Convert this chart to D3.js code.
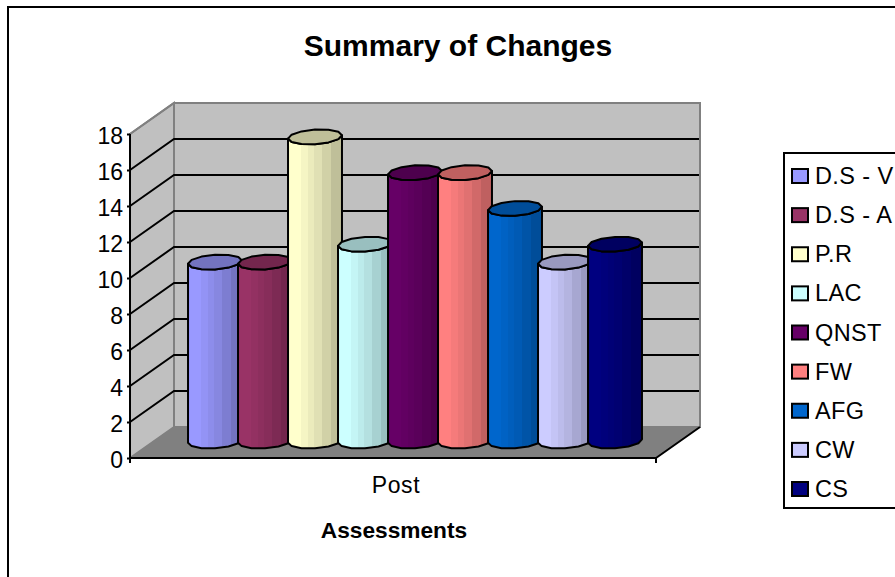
<!DOCTYPE html>
<html><head><meta charset="utf-8">
<script src="https://cdnjs.cloudflare.com/ajax/libs/d3/7.8.5/d3.min.js"></script>
<style>html,body{margin:0;padding:0;background:#fff;overflow:hidden}svg{display:block}text{font-family:"Liberation Sans",Arial,sans-serif;fill:#000}</style>
</head><body><svg id="c" width="895" height="577"></svg>
<script>
const seriesNames=["D.S - V","D.S - A","P.R","LAC","QNST","FW","AFG","CW","CS"];
const seriesValues=[10,10,17,11,15,15,13,10,11];
const seriesColors=["#9999FF","#993366","#FFFFCC","#CCFFFF","#660066","#FF8080","#0066CC","#CCCCFF","#000080"];
const yTicks=[0,2,4,6,8,10,12,14,16,18];
const category="Post";
const titleText="Summary of Changes";
const xTitleText="Assessments";

const svg=d3.select("#c");
const defs=svg.append("defs");
// frame
svg.append("path").attr("d","M8,577V7H895").attr("fill","none").attr("stroke","#000").attr("stroke-width",2);

const front={x0:130,x1:656,y0:458,y1:134};
const depth={dx:44,dy:-31};
const y=d3.scaleLinear().domain([0,18]).range([front.y0,front.y1]);
const yMid=d3.scaleLinear().domain([0,18]).range([441,119]);
const x=d3.scalePoint().domain(seriesNames).range([215,615]);
const backY=v=>y(v)+depth.dy;
const bx0=front.x0+depth.dx, bx1=front.x1+depth.dx;

// walls
svg.append("rect").attr("x",bx0).attr("y",backY(18)).attr("width",bx1-bx0).attr("height",backY(0)-backY(18))
  .attr("fill","#C0C0C0").attr("stroke","#808080").attr("stroke-width",2);
svg.append("polygon").attr("points",[[front.x0,y(18)],[bx0,backY(18)],[bx0,backY(0)],[front.x0,y(0)]].join(" "))
  .attr("fill","#C0C0C0").attr("stroke","#808080").attr("stroke-width",2);
svg.append("polygon").attr("points",[[front.x0,y(0)],[bx0,backY(0)],[bx1,backY(0)],[front.x1,y(0)]].join(" "))
  .attr("fill","#808080");
// gridlines
const gl=yTicks.filter(t=>t>0&&t<18);
svg.append("g").selectAll("path").data(gl).join("path")
  .attr("d",t=>`M${front.x0},${y(t)}L${bx0},${backY(t)}H${bx1-1}`)
  .attr("fill","none").attr("stroke","#000").attr("stroke-width",2);
svg.append("path").attr("d",`M${front.x0},${y(18)}L${bx0},${backY(18)}H${bx1}`).attr("fill","none").attr("stroke","#808080").attr("stroke-width",2);
// axes lines
svg.append("path").attr("d",`M${front.x0},${y(18)}V${y(0)+5}M${front.x0},${y(0)}H${front.x1}V${y(0)+5}M${front.x1},${y(0)}L${bx1},${backY(0)}`)
  .attr("fill","none").attr("stroke","#000").attr("stroke-width",2);

// axis labels
const axis=d3.axisLeft(y).tickValues(yTicks).tickSize(3).tickPadding(4);
const ag=svg.append("g").attr("transform",`translate(${front.x0},0)`).call(axis);
ag.select(".domain").remove();
ag.selectAll("line").attr("stroke","#000").attr("stroke-width",2);
ag.selectAll("text").style("font-size","23px").attr("dy","0.4em").attr("fill","#000");

// columns
const capA=26.3, capDx=6, capDy=7.5;
const pt=(xc,yc,t)=>[xc+capA*Math.cos(t)+capDx*Math.sin(t), yc-capDy*Math.sin(t)];
const tMax=Math.atan2(capDx,capA);
const line=d3.line();
const bands=[[0,1],[.24,.96],[.37,.92],[.48,.88],[.63,.82],[.79,.75]];
const shade=(c,f)=>{const r=d3.rgb(c);return d3.rgb(r.r*f,r.g*f,r.b*f).formatHex();};
seriesColors.forEach((c,i)=>{
  const g=defs.append("linearGradient").attr("id","g"+i).attr("x1",0).attr("x2",1).attr("y1",0).attr("y2",0);
  bands.forEach((b,j)=>{
    g.append("stop").attr("offset",b[0]).attr("stop-color",shade(c,b[1]));
    const e=j<bands.length-1?bands[j+1][0]:1;
    g.append("stop").attr("offset",e).attr("stop-color",shade(c,b[1]));
  });
});
const cols=svg.append("g").selectAll("g").data(seriesNames).join("g");
cols.each(function(name,i){
  const g=d3.select(this), xc=x(name), yt=yMid(seriesValues[i]), yb=yMid(0);
  const cap=d3.range(0,12).map(k=>pt(xc,yt,k*Math.PI/6+tMax));
  const lower=d3.range(0,7).map(k=>pt(xc,yb,Math.PI+tMax+k*Math.PI/6));
  const upper=d3.range(0,7).map(k=>pt(xc,yt,tMax-k*Math.PI/6));
  g.append("path").attr("d",line([...lower,...upper])+"Z").attr("fill",`url(#g${i})`).attr("stroke","#000").attr("stroke-width",2).attr("stroke-linejoin","round");
  g.append("path").attr("d",line(cap)+"Z").attr("fill",shade(seriesColors[i],.75)).attr("stroke","#000").attr("stroke-width",2).attr("stroke-linejoin","round");
});

// titles
svg.append("text").attr("x",458).attr("y",56).attr("text-anchor","middle").style("font-size","30px").style("font-weight","bold").text(titleText);
svg.append("text").attr("x",396).attr("y",493).attr("text-anchor","middle").style("font-size","23px").style("letter-spacing","0.6px").text(category);
svg.append("text").attr("x",394).attr("y",538).attr("text-anchor","middle").style("font-size","22.7px").style("font-weight","bold").text(xTitleText);

// legend
svg.append("rect").attr("x",784).attr("y",153).attr("width",130).attr("height",355).attr("fill","#fff").attr("stroke","#000").attr("stroke-width",2);
const rowY=d3.scalePoint().domain(seriesNames).range([176,489]);
const lg=svg.append("g").selectAll("g").data(seriesNames).join("g").attr("transform",d=>`translate(0,${rowY(d)})`);
lg.append("rect").attr("x",792).attr("y",-7).attr("width",16).attr("height",14).attr("fill",(d,i)=>seriesColors[i]).attr("stroke","#000").attr("stroke-width",2);
lg.append("text").attr("x",815).attr("y",8).style("font-size","23.5px").style("letter-spacing","0.4px").text(d=>d);
</script></body></html>
